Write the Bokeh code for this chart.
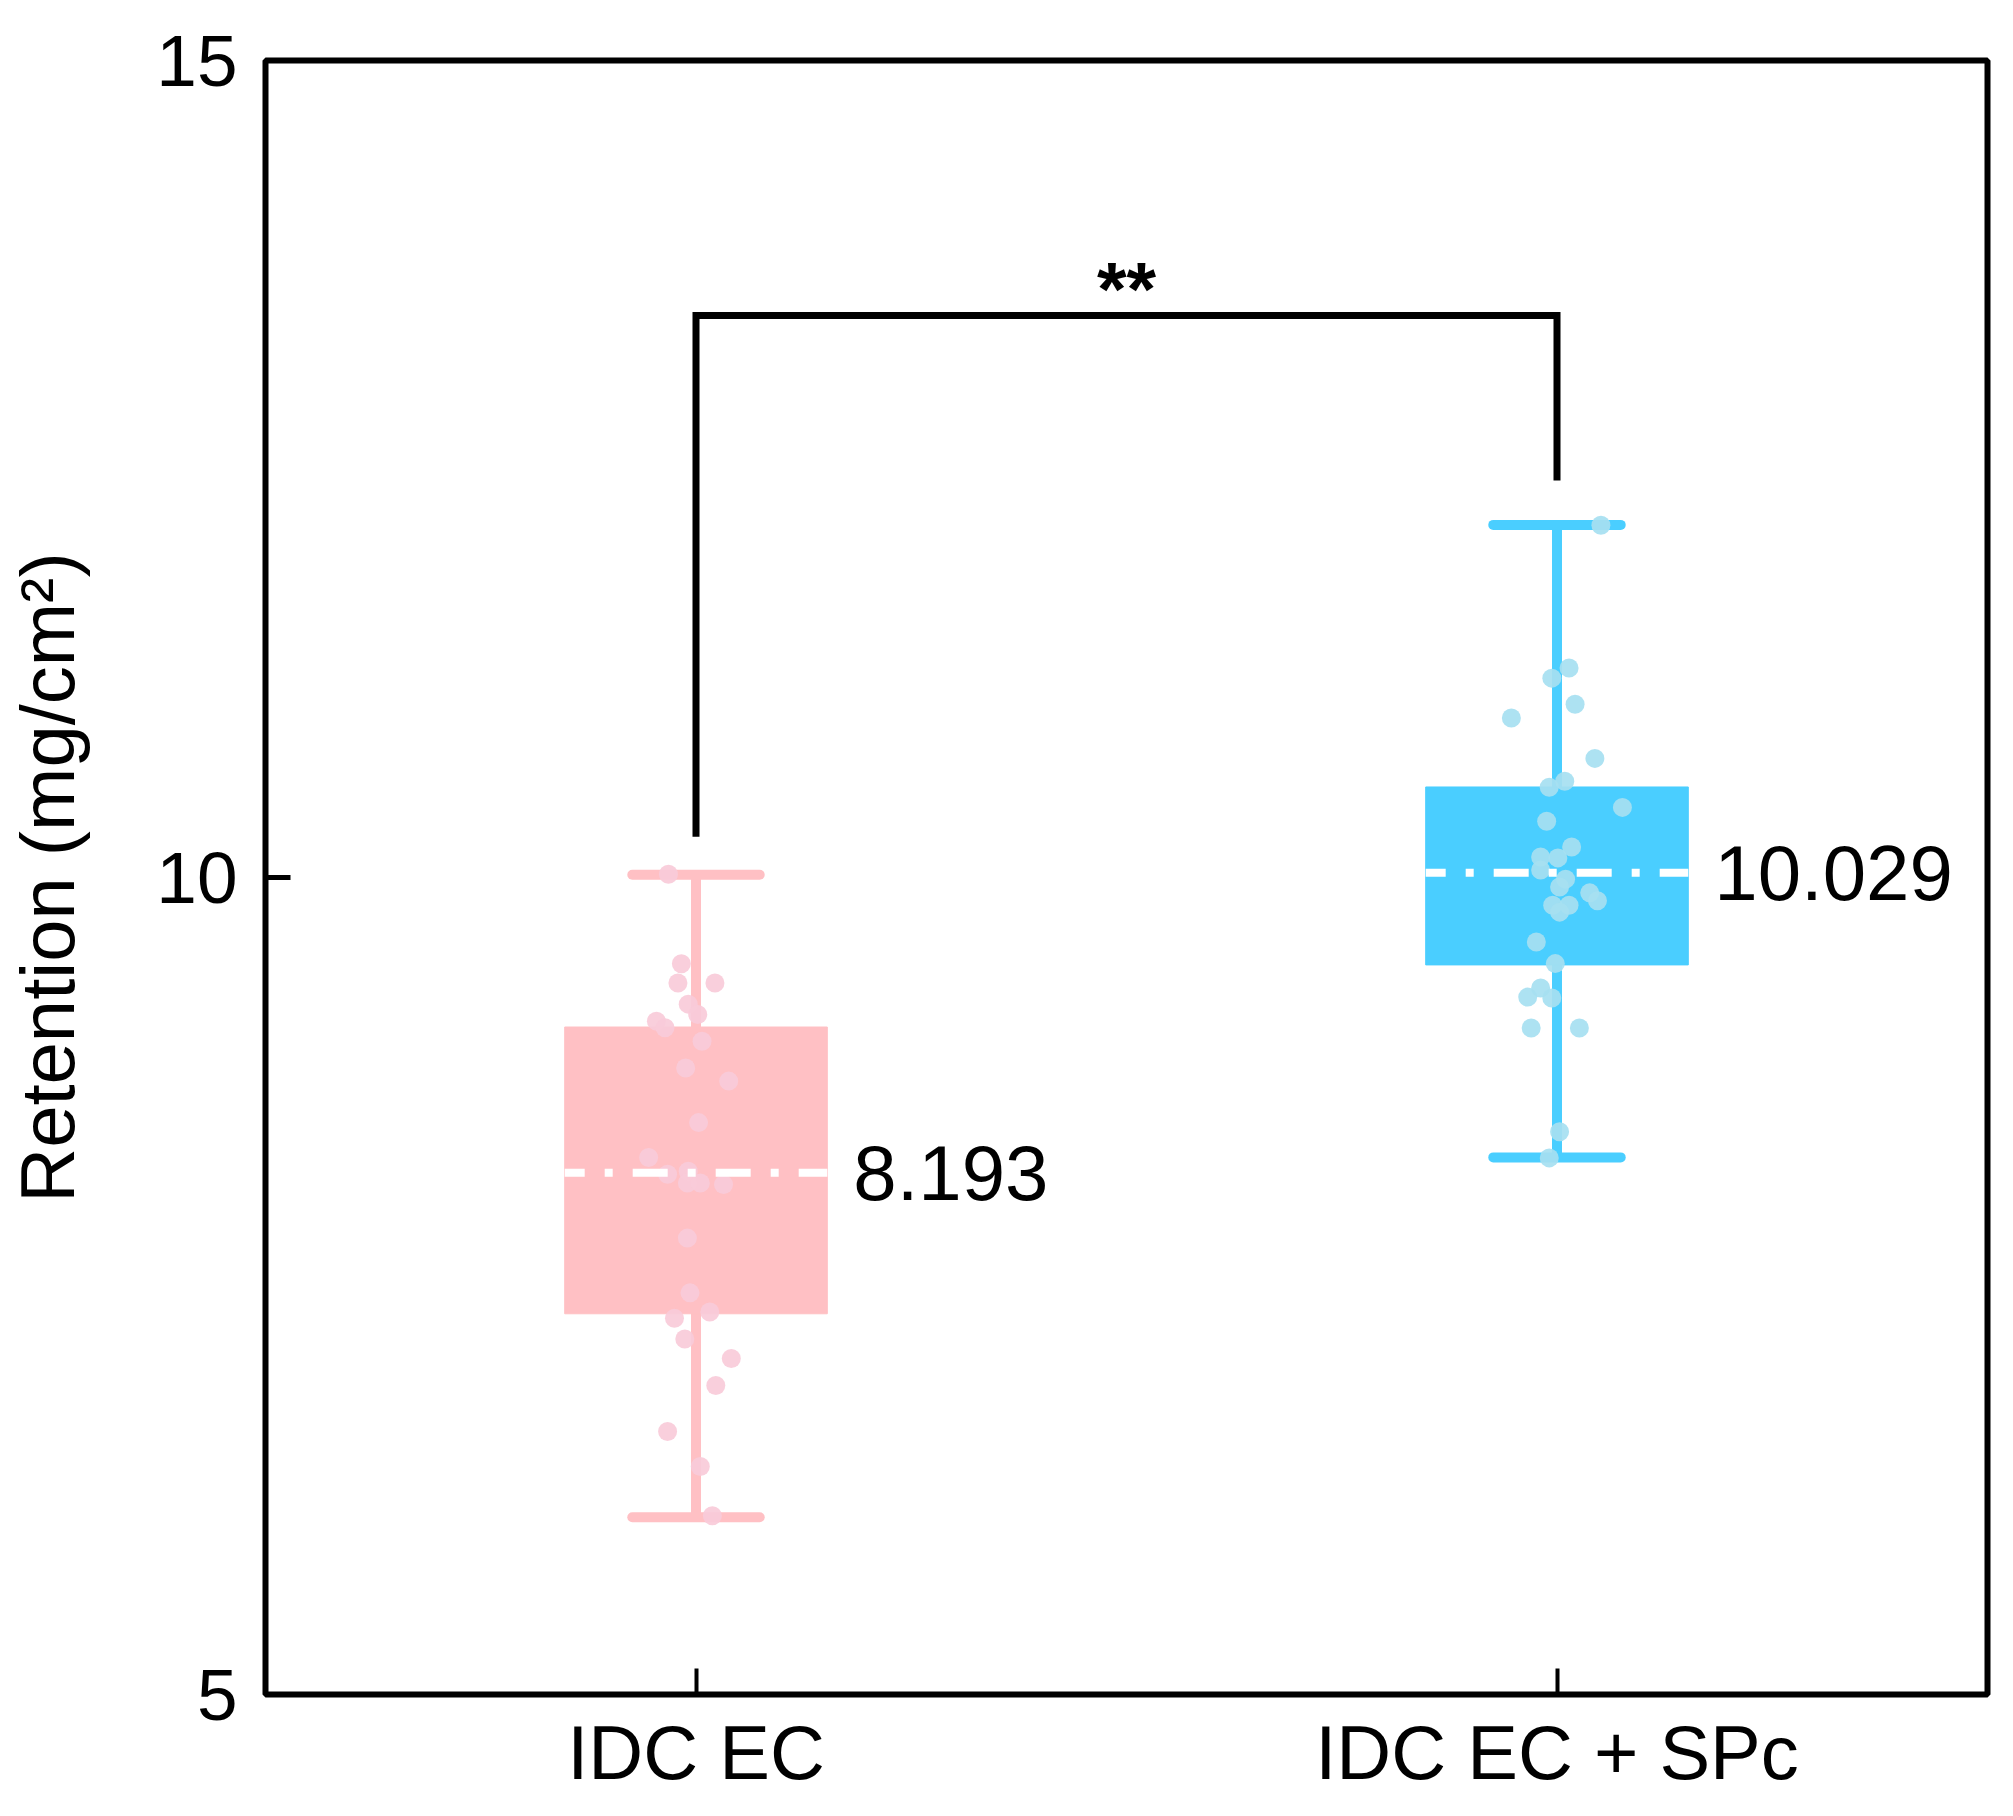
from bokeh.plotting import figure
from bokeh.models import FixedTicker, ColumnDataSource, Range1d
from bokeh.embed import file_html
from bokeh.resources import INLINE
from bokeh.core.properties import value

# ---------------- data ----------------
categories = ["IDC EC", "IDC EC + SPc"]
q1 = [7.33, 9.465]
q3 = [9.085, 10.554]
medians = [8.193, 10.029]
whisker_low = [6.085, 8.287]
whisker_high = [10.017, 12.158]

pink_values = [10.02, 9.472, 9.354, 9.354, 9.225, 9.162, 9.121, 9.08, 8.998, 8.834,
               8.754, 8.50, 8.286, 8.184, 8.203, 8.13, 8.13, 8.121, 7.793, 7.458,
               7.302, 7.341, 7.176, 7.056, 6.891, 6.609, 6.395, 6.094]
pink_jitter = [-0.032, -0.017, -0.021, 0.022, -0.009, 0.002, -0.046, -0.036, 0.007, -0.012,
               0.038, 0.003, -0.055, -0.033, -0.009, -0.010, 0.005, 0.032, -0.010, -0.007,
               -0.025, 0.016, -0.013, 0.041, 0.023, -0.033, 0.005, 0.019]

blue_values = [12.156, 11.282, 11.22, 11.06, 10.976, 10.729, 10.552, 10.589, 10.429, 10.344,
               10.187, 10.125, 10.12, 10.046, 9.99, 9.942, 9.906, 9.858, 9.83, 9.83,
               9.788, 9.605, 9.473, 9.268, 9.324, 9.262, 9.079, 9.079, 8.444, 8.284]
blue_jitter = [0.051, 0.014, -0.006, 0.021, -0.053, 0.044, -0.009, 0.009, 0.076, -0.012,
               0.017, -0.019, 0.001, -0.019, 0.010, 0.003, 0.038, 0.047, -0.005, 0.014,
               0.003, -0.024, -0.002, -0.034, -0.019, -0.006, -0.030, 0.026, 0.003, -0.009]

bracket_top = 13.44
bracket_ends = [10.25, 12.43]
significance = "**"

box_colors = ["#FFC0C4", "#4ACEFF"]
point_colors = ["#F8CBD9", "#A6E0F1"]

FONT = "Liberation Sans"

# ---------------- figure ----------------
p = figure(frame_width=1722, frame_height=1634,
           x_range=Range1d(0.5, 2.5), y_range=Range1d(5, 15),
           output_backend="svg", toolbar_location=None,
           min_border_left=265, min_border_right=18,
           min_border_top=60, min_border_bottom=110)
p.background_fill_color = "white"
p.border_fill_color = "white"
p.xgrid.visible = False
p.ygrid.visible = False
p.outline_line_color = "black"
p.outline_line_width = 6
p.outline_line_alpha = 1.0

xs = [i + 1 for i in range(len(categories))]

p.xaxis.ticker = FixedTicker(ticks=xs)
p.xaxis.major_label_overrides = {x: c for x, c in zip(xs, categories)}
p.yaxis.ticker = FixedTicker(ticks=[5, 10, 15])

for ax in (p.xaxis[0], p.yaxis[0]):
    ax.axis_line_color = None
    ax.major_tick_out = 0
    ax.minor_tick_line_color = None
    ax.major_tick_line_color = "black"
    ax.major_label_text_font = FONT
    ax.major_label_text_color = "black"

p.xaxis.major_tick_in = 26
p.xaxis.major_tick_line_width = 4
p.xaxis.major_label_text_font_size = "76px"
p.xaxis.major_label_standoff = 15

p.yaxis.major_tick_in = 25
p.yaxis.major_tick_line_width = 5
p.yaxis.major_label_text_font_size = "73px"
p.yaxis.major_label_standoff = 28
p.yaxis.axis_label = "Retention (mg/cm²)"
p.yaxis.axis_label_text_font = FONT
p.yaxis.axis_label_text_font_size = "76px"
p.yaxis.axis_label_text_font_style = "normal"
p.yaxis.axis_label_text_color = "black"
p.yaxis.axis_label_standoff = 63

# whiskers
p.segment(x0=xs, y0=whisker_low, x1=xs, y1=whisker_high,
          line_color=box_colors, line_width=10)
# boxes
p.vbar(x=xs, bottom=q1, top=q3, width=0.305,
       fill_color=box_colors, line_color=box_colors, line_width=1)
# caps
cap_half = 0.074
for ys in (whisker_low, whisker_high):
    p.segment(x0=[x - cap_half for x in xs], y0=ys,
              x1=[x + cap_half for x in xs], y1=ys,
              line_color=box_colors, line_width=10, line_cap="round")

# jittered points
for k, (vals, jit) in enumerate([(pink_values, pink_jitter), (blue_values, blue_jitter)]):
    src = ColumnDataSource(dict(x=[xs[k] + j for j in jit], y=vals))
    p.scatter("x", "y", source=src, size=19, marker="circle",
              fill_color=point_colors[k], line_color=None, fill_alpha=0.92)

# median lines
half_box = 0.1525
p.segment(x0=[x - half_box for x in xs], y0=medians,
          x1=[x + half_box for x in xs], y1=medians,
          line_color="white", line_width=8, line_dash="35 20 8 20",
          line_dash_offset=15)

# median labels
p.text(x=[x + half_box for x in xs], y=medians,
       text=[f"{m:.3f}" for m in medians],
       x_offset=26, text_align="left", text_baseline="middle",
       text_font=value(FONT), text_font_size="78px", text_color="black")

# significance bracket
p.line(x=[xs[0], xs[0], xs[1], xs[1]],
       y=[bracket_ends[0], bracket_top, bracket_top, bracket_ends[1]],
       line_color="black", line_width=7, line_join="miter")
p.text(x=[(xs[0] + xs[1]) / 2], y=[bracket_top], text=[significance],
       y_offset=-27, text_align="center", text_baseline="alphabetic",
       text_font=value(FONT), text_font_size="76px", text_font_style="bold",
       text_color="black")

open("out.html", "w").write(file_html(p, INLINE))
